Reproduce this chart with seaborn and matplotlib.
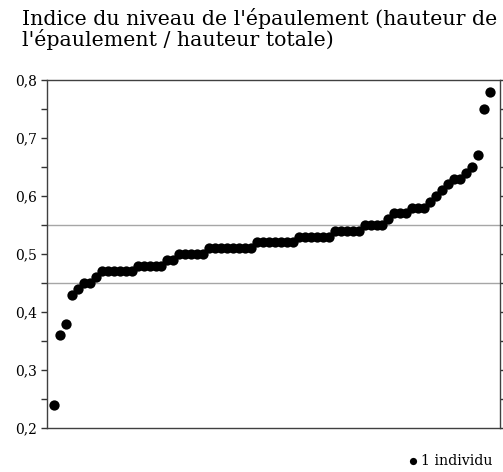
import matplotlib
matplotlib.use("Agg")
import matplotlib.pyplot as plt
import numpy as np
import pandas as pd
import seaborn as sns
from matplotlib.ticker import MultipleLocator, FuncFormatter

TITLE = "Indice du niveau de l'épaulement (hauteur de\nl'épaulement / hauteur totale)"
LEGEND_LABEL = "1 individu"

# one value per individual, sorted
indice = [
    0.24, 0.36, 0.38, 0.43, 0.44, 0.45, 0.45, 0.46,
    0.47, 0.47, 0.47, 0.47, 0.47, 0.47,
    0.48, 0.48, 0.48, 0.48, 0.48,
    0.49, 0.49,
    0.50, 0.50, 0.50, 0.50, 0.50,
    0.51, 0.51, 0.51, 0.51, 0.51, 0.51, 0.51, 0.51,
    0.52, 0.52, 0.52, 0.52, 0.52, 0.52, 0.52,
    0.53, 0.53, 0.53, 0.53, 0.53, 0.53,
    0.54, 0.54, 0.54, 0.54, 0.54,
    0.55, 0.55, 0.55, 0.55,
    0.56,
    0.57, 0.57, 0.57,
    0.58, 0.58, 0.58,
    0.59, 0.60, 0.61, 0.62, 0.63, 0.63,
    0.64, 0.65, 0.67, 0.75, 0.78,
]
ref_lines = [0.45, 0.55]
y_ticks = [0.2, 0.3, 0.4, 0.5, 0.6, 0.7, 0.8]

df = pd.DataFrame({"rang": np.arange(len(indice)), "indice": indice})

sns.set_style("white")
plt.rcParams["font.family"] = ["DejaVu Serif", "Liberation Serif"]
plt.rcParams["text.color"] = "black"
plt.rcParams["ytick.labelcolor"] = "black"

fig = plt.figure(figsize=(5.03, 4.72), dpi=100)
ax = fig.add_axes([0.0934, 0.0932, 0.9006, 0.7373])

for v in ref_lines:
    ax.axhline(v, color="#a6a6a6", lw=1.0, zorder=1)

sns.scatterplot(data=df, x="rang", y="indice", ax=ax, color="black",
                s=55, linewidth=0, label=LEGEND_LABEL, zorder=3)

ax.set_xlim(-1.17, len(indice) - 1 + 1.67)
ax.set_ylim(min(y_ticks), max(y_ticks))
ax.set_yticks(y_ticks)
ax.yaxis.set_minor_locator(MultipleLocator(0.05))
ax.yaxis.set_major_formatter(FuncFormatter(lambda v, p: f"{v:.1f}".replace(".", ",")))
ax.set_xticks([])
ax.set_xlabel("")
ax.set_ylabel("")

ax.tick_params(axis="y", which="both", left=True, right=True, direction="out",
               length=4, width=1, color="#333333", labelsize=10, pad=3,
               labelcolor="black")
for sp in ax.spines.values():
    sp.set_color("#404040")
    sp.set_linewidth(1.0)

fig.text(22 / 503, 1 - 8 / 472, TITLE, ha="left", va="top", fontsize=14.8,
         linespacing=0.98, color="black")

leg = ax.legend(loc="center right", bbox_to_anchor=(500 / 503, 1 - 461 / 472),
                bbox_transform=fig.transFigure, frameon=False, markerscale=0.7,
                handletextpad=0.1, borderpad=0, handlelength=1.0, fontsize=10.3)
for t in leg.get_texts():
    t.set_color("black")

fig.savefig("out.png", dpi=100)
